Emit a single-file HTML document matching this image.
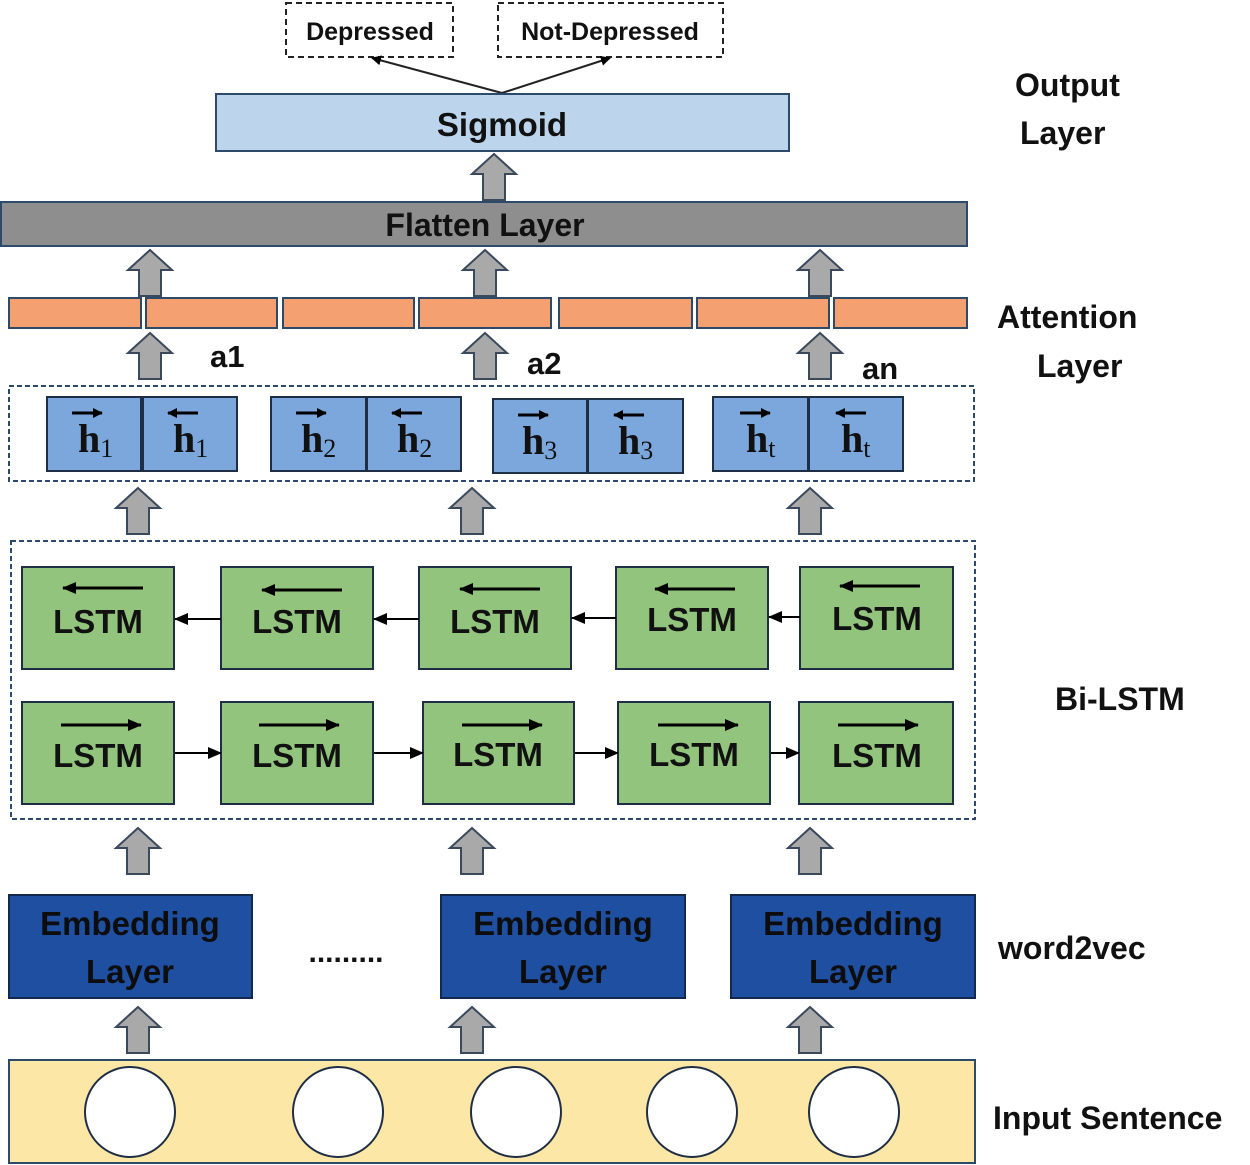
<!DOCTYPE html>
<html><head><meta charset="utf-8"><style>
html,body{margin:0;padding:0;background:#fff;}
svg{display:block;font-family:"Liberation Sans",sans-serif;}
</style></head><body>
<svg width="1250" height="1165" viewBox="0 0 1250 1165" xmlns="http://www.w3.org/2000/svg">
<defs>
<g id="ua"><path d="M-11,46 L-11,20 L-22,20 L0,0 L22,20 L11,20 L11,46 Z" fill="#a9a9a9" stroke="#3a4a5c" stroke-width="2"/></g>
<marker id="ah" markerWidth="10" markerHeight="10" refX="9" refY="5" orient="auto" markerUnits="userSpaceOnUse"><path d="M0,0 L10,5 L0,10 Z" fill="#000"/></marker>
<marker id="ah2" markerWidth="14" markerHeight="12" refX="13" refY="6" orient="auto" markerUnits="userSpaceOnUse"><path d="M0,0 L14,6 L0,12 Z" fill="#000"/></marker>
</defs>
<g font-weight="bold" font-size="31" fill="#111">
<rect x="286" y="3" width="167" height="54" fill="#fff" stroke="#222" stroke-width="2" stroke-dasharray="6,4"/>
<text x="370" y="40" text-anchor="middle" font-size="25">Depressed</text>
<rect x="498" y="3" width="225" height="54" fill="#fff" stroke="#222" stroke-width="2" stroke-dasharray="6,4"/>
<text x="610" y="40" text-anchor="middle" font-size="25">Not-Depressed</text>
<line x1="502" y1="93" x2="372" y2="58" stroke="#222" stroke-width="2" marker-end="url(#ah)"/>
<line x1="502" y1="93" x2="610" y2="58" stroke="#222" stroke-width="2" marker-end="url(#ah)"/>
<rect x="216" y="94" width="573" height="57" fill="#bcd4ec" stroke="#2e4a6a" stroke-width="2"/>
<text x="502" y="136" text-anchor="middle" font-size="33">Sigmoid</text>
<use href="#ua" x="494" y="154"/>
<rect x="1" y="202" width="966" height="44" fill="#8e8e8e" stroke="#2e4a6a" stroke-width="2"/>
<text x="485" y="236" text-anchor="middle" font-size="32">Flatten Layer</text>
<use href="#ua" x="150" y="250"/><use href="#ua" x="485" y="250"/><use href="#ua" x="820" y="250"/>
<g fill="#f4a070" stroke="#2e4a6a" stroke-width="2">
<rect x="9" y="298" width="132" height="30"/><rect x="146" y="298" width="131" height="30"/><rect x="283" y="298" width="131" height="30"/><rect x="419" y="298" width="132" height="30"/><rect x="559" y="298" width="133" height="30"/><rect x="697" y="298" width="132" height="30"/><rect x="834" y="298" width="133" height="30"/>
</g>
<use href="#ua" x="150" y="333"/><use href="#ua" x="485" y="333"/><use href="#ua" x="820" y="333"/>
<text x="210" y="367">a1</text><text x="527" y="374">a2</text><text x="862" y="379">an</text>
<rect x="9" y="386" width="965" height="95" fill="none" stroke="#2e4a6a" stroke-width="2" stroke-dasharray="5,3"/>
<g fill="#7ba7dc" stroke="#1e2e44" stroke-width="2">
<rect x="47" y="397" width="94" height="74"/><rect x="143" y="397" width="94" height="74"/>
<rect x="271" y="397" width="95" height="74"/><rect x="367" y="397" width="94" height="74"/>
<rect x="493" y="399" width="94" height="74"/><rect x="588" y="399" width="95" height="74"/>
<rect x="713" y="397" width="95" height="74"/><rect x="809" y="397" width="94" height="74"/>
</g>
<g font-family="Liberation Serif,serif" font-size="40" font-weight="bold">
<text x="78" y="452">h<tspan font-size="26" dy="5" font-weight="normal">1</tspan></text>
<text x="173" y="452">h<tspan font-size="26" dy="5" font-weight="normal">1</tspan></text>
<text x="301" y="452">h<tspan font-size="26" dy="5" font-weight="normal">2</tspan></text>
<text x="397" y="452">h<tspan font-size="26" dy="5" font-weight="normal">2</tspan></text>
<text x="522" y="454">h<tspan font-size="26" dy="5" font-weight="normal">3</tspan></text>
<text x="618" y="454">h<tspan font-size="26" dy="5" font-weight="normal">3</tspan></text>
<text x="746" y="452">h<tspan font-size="26" dy="5" font-weight="normal">t</tspan></text>
<text x="841" y="452">h<tspan font-size="26" dy="5" font-weight="normal">t</tspan></text>
</g>
<g stroke="#000" stroke-width="3">
<line x1="72" y1="413" x2="102" y2="413" marker-end="url(#ah)"/>
<line x1="198" y1="413" x2="168" y2="413" marker-end="url(#ah)"/>
<line x1="296" y1="413" x2="326" y2="413" marker-end="url(#ah)"/>
<line x1="422" y1="413" x2="392" y2="413" marker-end="url(#ah)"/>
<line x1="518" y1="415" x2="548" y2="415" marker-end="url(#ah)"/>
<line x1="644" y1="415" x2="614" y2="415" marker-end="url(#ah)"/>
<line x1="740" y1="413" x2="770" y2="413" marker-end="url(#ah)"/>
<line x1="866" y1="413" x2="836" y2="413" marker-end="url(#ah)"/>
</g>
<use href="#ua" x="138" y="488"/><use href="#ua" x="472" y="488"/><use href="#ua" x="810" y="488"/>
<rect x="11" y="541" width="964" height="278" fill="none" stroke="#2e4a6a" stroke-width="2" stroke-dasharray="5,3"/>
<g fill="#93c47d" stroke="#1e2e44" stroke-width="2">
<rect x="22" y="567" width="152" height="102"/><rect x="221" y="567" width="152" height="102"/><rect x="419" y="567" width="152" height="102"/><rect x="616" y="567" width="152" height="102"/><rect x="800" y="567" width="153" height="102"/>
<rect x="22" y="702" width="152" height="102"/><rect x="221" y="702" width="152" height="102"/><rect x="423" y="702" width="151" height="102"/><rect x="618" y="702" width="152" height="102"/><rect x="799" y="702" width="154" height="102"/>
</g>
<g font-size="33" text-anchor="middle">
<text x="98" y="633">LSTM</text><text x="297" y="633">LSTM</text><text x="495" y="633">LSTM</text><text x="692" y="631">LSTM</text><text x="877" y="630">LSTM</text>
<text x="98" y="767">LSTM</text><text x="297" y="767">LSTM</text><text x="498" y="766">LSTM</text><text x="694" y="766">LSTM</text><text x="877" y="767">LSTM</text>
</g>
<g stroke="#000" stroke-width="3">
<line x1="143" y1="588" x2="63" y2="588" marker-end="url(#ah2)"/>
<line x1="342" y1="590" x2="262" y2="590" marker-end="url(#ah2)"/>
<line x1="540" y1="589" x2="460" y2="589" marker-end="url(#ah2)"/>
<line x1="735" y1="589" x2="655" y2="589" marker-end="url(#ah2)"/>
<line x1="920" y1="586" x2="840" y2="586" marker-end="url(#ah2)"/>
<line x1="61" y1="725" x2="141" y2="725" marker-end="url(#ah2)"/>
<line x1="259" y1="725" x2="339" y2="725" marker-end="url(#ah2)"/>
<line x1="462" y1="725" x2="542" y2="725" marker-end="url(#ah2)"/>
<line x1="658" y1="725" x2="738" y2="725" marker-end="url(#ah2)"/>
<line x1="838" y1="725" x2="918" y2="725" marker-end="url(#ah2)"/>
</g>
<g stroke="#000" stroke-width="2">
<line x1="221" y1="619" x2="175" y2="619" marker-end="url(#ah2)"/>
<line x1="419" y1="619" x2="374" y2="619" marker-end="url(#ah2)"/>
<line x1="616" y1="618" x2="572" y2="618" marker-end="url(#ah2)"/>
<line x1="800" y1="617" x2="769" y2="617" marker-end="url(#ah2)"/>
<line x1="175" y1="753" x2="221" y2="753" marker-end="url(#ah2)"/>
<line x1="374" y1="753" x2="423" y2="753" marker-end="url(#ah2)"/>
<line x1="575" y1="753" x2="618" y2="753" marker-end="url(#ah2)"/>
<line x1="771" y1="753" x2="799" y2="753" marker-end="url(#ah2)"/>
</g>
<use href="#ua" x="138" y="828"/><use href="#ua" x="472" y="828"/><use href="#ua" x="810" y="828"/>
<g fill="#1f4fa0" stroke="#13294d" stroke-width="2">
<rect x="9" y="895" width="243" height="103"/><rect x="441" y="895" width="244" height="103"/><rect x="731" y="895" width="244" height="103"/>
</g>
<g font-size="33" text-anchor="middle" fill="#0d0d0d">
<text x="130" y="935">Embedding</text><text x="130" y="983">Layer</text>
<text x="563" y="935">Embedding</text><text x="563" y="983">Layer</text>
<text x="853" y="935">Embedding</text><text x="853" y="983">Layer</text>
</g>
<text x="346" y="962" text-anchor="middle" font-size="30">.........</text>
<use href="#ua" x="138" y="1007"/><use href="#ua" x="472" y="1007"/><use href="#ua" x="810" y="1007"/>
<rect x="9" y="1060" width="966" height="103" fill="#fde7a6" stroke="#2e4a6a" stroke-width="2"/>
<g fill="#fff" stroke="#1e2e44" stroke-width="2">
<circle cx="130" cy="1112" r="45"/><circle cx="338" cy="1112" r="45"/><circle cx="516" cy="1112" r="45"/><circle cx="692" cy="1112" r="45"/><circle cx="854" cy="1112" r="45"/>
</g>
<g font-size="32">
<text x="1015" y="96">Output</text><text x="1020" y="144">Layer</text>
<text x="997" y="328">Attention</text><text x="1037" y="377">Layer</text>
<text x="1055" y="710">Bi-LSTM</text>
<text x="998" y="959">word2vec</text>
<text x="993" y="1129">Input Sentence</text>
</g>
</g>
</svg>
</body></html>
